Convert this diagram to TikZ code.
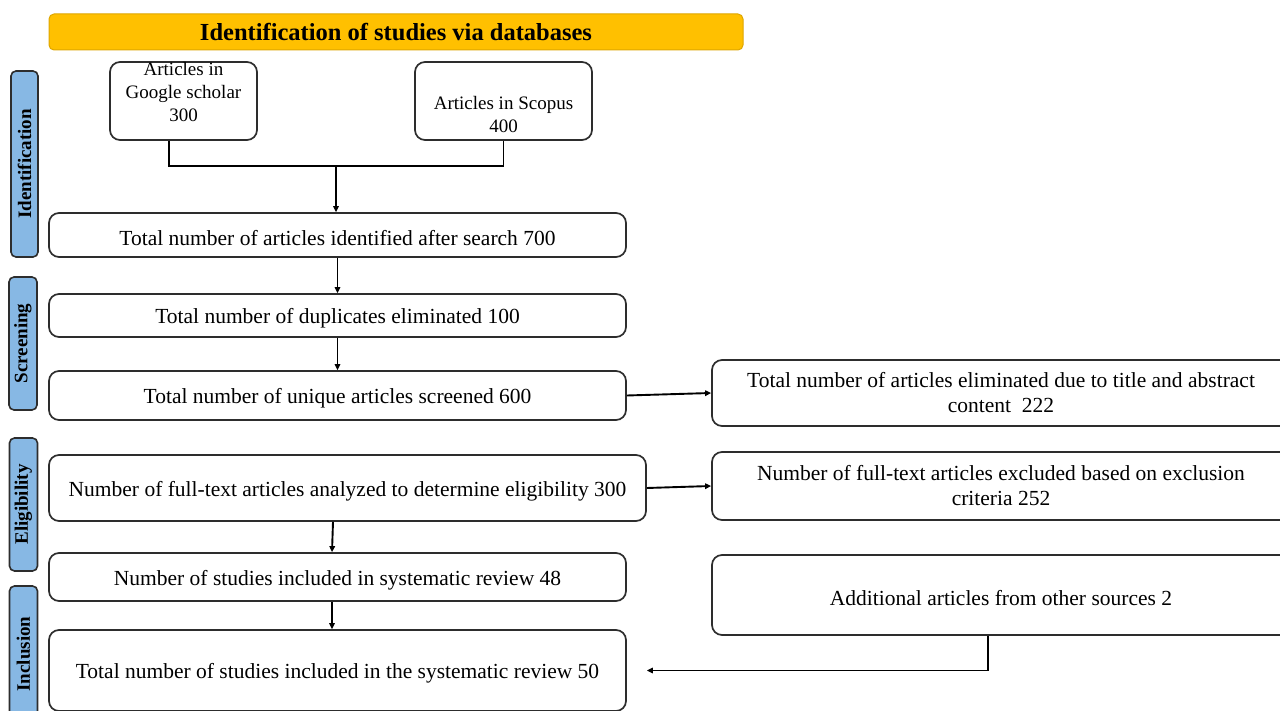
\documentclass[tikz,border=0pt]{standalone}
\usepackage{fontspec}
\setmainfont{Liberation Serif}
\usetikzlibrary{arrows.meta,calc}
\definecolor{lblue}{RGB}{135,184,228}
\definecolor{gold}{RGB}{255,192,0}
\definecolor{goldedge}{RGB}{222,166,0}
\definecolor{edge}{RGB}{45,45,45}
\tikzset{
  box/.style={draw=edge,line width=1.7pt,rounded corners=10pt,fill=white,align=center,
    inner sep=0pt,font=\fontsize{21.5}{25}\selectfont,
    execute at begin node={\rule{0pt}{21.5pt}}},
  stage/.style={draw=edge,line width=1.6pt,rounded corners=5pt,fill=lblue,inner sep=0pt},
  stagetext/.style={rotate=90,font=\fontsize{19}{21}\selectfont\bfseries},
  conn/.style={line width=1.9pt,draw=black},
  arr/.style={conn,-{Triangle[length=6pt,width=5.5pt]}}
}
\newcommand{\bx}[6]{% name, x1, y1, x2, y2, text
  \node[box,minimum width={#4-#2},minimum height={#5-#3}] (#1) at ({(#2+#4)/2},{(#3+#5)/2}) {#6};}
\begin{document}
\begin{tikzpicture}[x=1pt,y=-1pt]
\useasboundingbox (0,0) rectangle (1280,711);
\clip (0,0) rectangle (1280,711);
\fill[white] (0,0) rectangle (1280,711);
% title
\node[draw=goldedge,fill=gold,line width=1pt,rounded corners=5pt,minimum width=694,minimum height=36,inner sep=0pt,
  font=\fontsize{24.5}{27}\selectfont\bfseries] (title) at (396,32) {Identification of studies via databases};
% stage labels
\node[stage,minimum width=27,minimum height=186] (sid) at (24.5,164) {};
\node[stagetext] at (sid.center) {Identification};
\node[stage,minimum width=28,minimum height=133] (ssc) at (23,343.5) {};
\node[stagetext] at (ssc.center) {Screening};
\node[stage,minimum width=28,minimum height=133] (sel) at (23.5,504.5) {};
\node[stagetext] at (sel.center) {Eligibility};
\node[stage,minimum width=28,minimum height=136] (sin) at (23.5,654) {};
\node[stagetext] at (sin.center) {Inclusion};
% source boxes
\node[box,minimum width=147,minimum height=78,execute at begin node={}] (g) at (183.5,101) {};
\node[align=center,font=\fontsize{19}{23}\selectfont] at (183.5,92) {Articles in\\Google scholar\\300};
\node[box,minimum width=177,minimum height=78,execute at begin node={}] (s) at (503.5,101) {};
\node[align=center,font=\fontsize{19}{23}\selectfont] at (503.5,115) {Articles in Scopus\\400};
% main column
\bx{t700}{49}{213}{626}{257}{Total number of articles identified after search 700}
\bx{dup}{49}{294}{626}{337}{Total number of duplicates eliminated 100}
\bx{uniq}{49}{371}{626}{420}{Total number of unique articles screened 600}
\bx{full}{49}{455}{646}{521}{Number of full-text articles analyzed to determine eligibility 300}
\bx{inc}{49}{553}{626}{601}{Number of studies included in systematic review 48}
\bx{t50}{49}{630}{626}{711}{Total number of studies included in the systematic review 50}
% right column
\bx{elim}{712}{360}{1290}{426}{Total number of articles eliminated due to title and abstract\\content\ \ 222}
\bx{excl}{712}{452}{1290}{520}{Number of full-text articles excluded based on exclusion\\criteria 252}
\bx{add}{712}{555}{1290}{635}{Additional articles from other sources 2}
% connectors
\coordinate (j) at (336,166);
\draw[conn] ([xshift=-14.5]g.south) |- (j) -| (s.south);
\draw[arr] (j) -- (j |- t700.north);
\draw[arr] (t700.south) -- (dup.north);
\draw[arr] (dup.south) -- (uniq.north);
\draw[arr] (uniq.east) -- (elim.west);
\draw[arr] (full.east) -- (excl.west);
\draw[arr] ([xshift=-14.5]full.south) -- ([xshift=-5.5]inc.north);
\draw[arr] ([xshift=-5.5]inc.south) -- ([xshift=-5.5]t50.north);
\draw[arr] ([xshift=-13]add.south) |- ([xshift=20]t50.east);
\end{tikzpicture}
\end{document}
